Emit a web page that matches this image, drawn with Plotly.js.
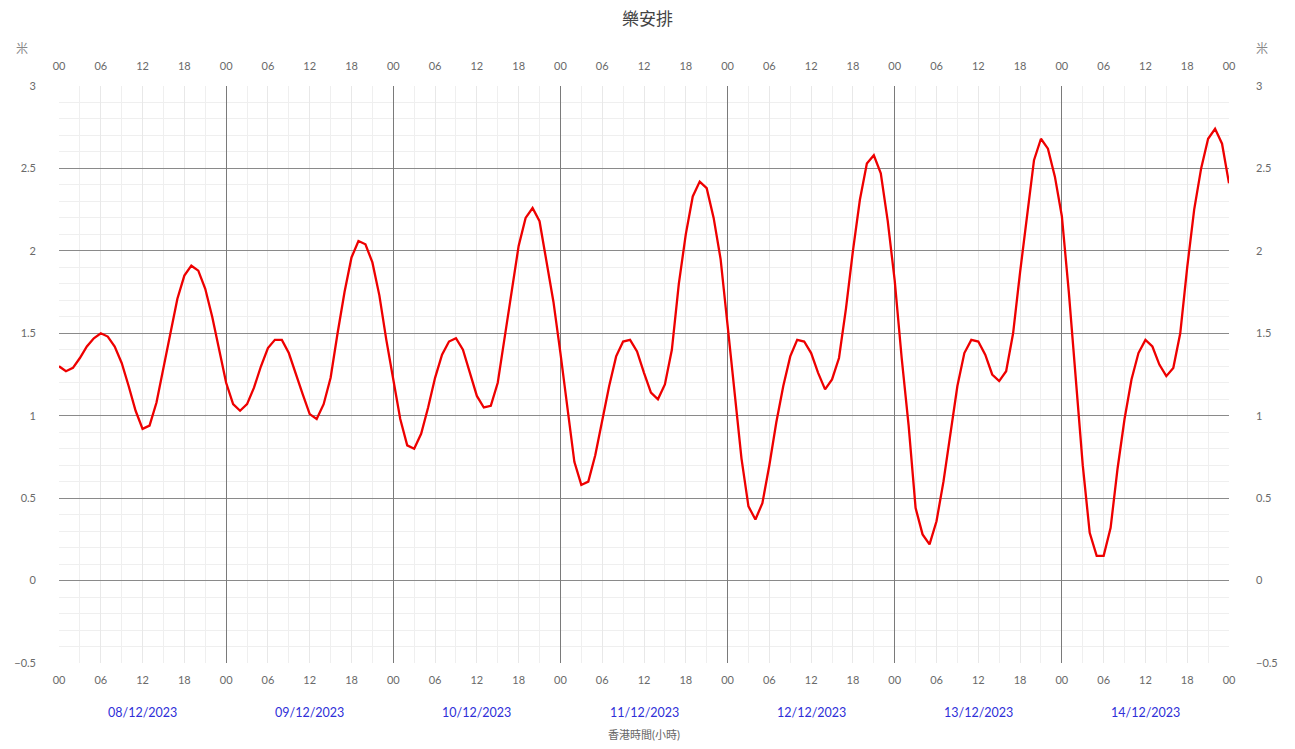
<!DOCTYPE html>
<html>
<head>
<meta charset="utf-8">
<script src="https://cdn.plot.ly/plotly-3.0.1.min.js"></script>
<style>html,body{margin:0;padding:0;background:#fff;}#chart{width:1295px;height:749px;}</style>
</head>
<body>
<div id="chart"></div>
<script>
// Station name and units
const stationName = "樂安排";
const unitLabel = "米";
const xTitle = "香港時間(小時)";

// Days shown (00 of each day at hour offsets 0, 24, 48 ...)
const dayLabels = ["08/12/2023","09/12/2023","10/12/2023","11/12/2023","12/12/2023","13/12/2023","14/12/2023"];

// Hour-of-day tick labels
const hourTickLabels = ["00","06","12","18"];

// Hourly tide level (m), from 00:00 08/12/2023 to 00:00 15/12/2023
const day1 = [1.30,1.27,1.29,1.35,1.42,1.47,1.50,1.48,1.42,1.32,1.18,1.03,0.92,0.94,1.08,1.30,1.50,1.71,1.85,1.91,1.88,1.77,1.60,1.40];
const day2 = [1.20,1.07,1.03,1.07,1.17,1.30,1.41,1.46,1.46,1.38,1.25,1.13,1.01,0.98,1.07,1.23,1.50,1.75,1.96,2.06,2.04,1.93,1.73,1.46];
const day3 = [1.22,0.98,0.82,0.80,0.89,1.05,1.23,1.37,1.45,1.47,1.40,1.26,1.12,1.05,1.06,1.20,1.48,1.75,2.03,2.20,2.26,2.18,1.94,1.69];
const day4 = [1.38,1.04,0.72,0.58,0.60,0.76,0.98,1.18,1.36,1.45,1.46,1.39,1.26,1.14,1.10,1.19,1.40,1.80,2.10,2.33,2.42,2.38,2.20,1.95];
const day5 = [1.55,1.13,0.74,0.45,0.37,0.47,0.70,0.96,1.18,1.36,1.46,1.45,1.38,1.26,1.16,1.22,1.35,1.65,2.00,2.31,2.53,2.58,2.47,2.18];
const day6 = [1.82,1.35,0.94,0.44,0.28,0.22,0.36,0.60,0.90,1.18,1.38,1.46,1.45,1.37,1.25,1.21,1.27,1.50,1.87,2.22,2.55,2.68,2.62,2.45];
const day7 = [2.21,1.75,1.20,0.70,0.29,0.15,0.15,0.32,0.68,0.98,1.22,1.38,1.46,1.42,1.31,1.24,1.29,1.50,1.90,2.25,2.50,2.68,2.74,2.65];
const finalLevel = [2.41];

const levels = [].concat(day1, day2, day3, day4, day5, day6, day7, finalLevel);
const hours = levels.map((_, i) => i);

const totalHours = dayLabels.length * 24;
const tickVals = [];
const tickText = [];
for (let h = 0; h <= totalHours; h += 6) {
  tickVals.push(h);
  tickText.push(hourTickLabels[(h % 24) / 6]);
}

const yRange = [-0.5, 3];
const xRange = [0, totalHours];
const fontFamily = "Lato, 'Noto Sans CJK TC', sans-serif";
const tickFont = {family: fontFamily, size: 11, color: "#6a6a6a"};

const traces = [
  {x: hours, y: levels, type: "scatter", mode: "lines",
   line: {color: "#ee0000", width: 2.3}, xaxis: "x", yaxis: "y",
   hoverinfo: "x+y", showlegend: false},
  {x: hours, y: levels, type: "scatter", mode: "lines",
   line: {color: "rgba(0,0,0,0)", width: 0}, xaxis: "x2", yaxis: "y2",
   hoverinfo: "skip", showlegend: false},
  {x: hours, y: levels, type: "scatter", mode: "lines",
   line: {color: "rgba(0,0,0,0)", width: 0}, xaxis: "x3", yaxis: "y",
   hoverinfo: "skip", showlegend: false}
];

const dayAnnotations = dayLabels.map((d, i) => ({
  x: i * 24 + 12, xref: "x", y: -0.085, yref: "paper", yanchor: "middle",
  text: d, showarrow: false, font: {family: fontFamily, size: 12.5, color: "#2f2fd8"}
}));

const layout = {
  width: 1295, height: 749,
  paper_bgcolor: "#fff", plot_bgcolor: "#fff",
  margin: {l: 59, r: 66, t: 86, b: 86},
  title: {text: stationName, x: 0.5, xanchor: "center", y: 0.975, yanchor: "middle",
          font: {family: fontFamily, size: 17, color: "#444"}},
  showlegend: false,
  xaxis: {
    range: xRange, tickmode: "array", tickvals: tickVals, ticktext: tickText,
    showgrid: true, gridcolor: "#e8e8e8", gridwidth: 1,
    minor: {dtick: 3, tick0: 0, showgrid: true, gridcolor: "#efefef", gridwidth: 1},
    zeroline: false, showline: false, ticks: "", ticklabelstandoff: 9,
    tickfont: tickFont,
    title: {text: xTitle, standoff: 46, font: {family: fontFamily, size: 11, color: "#666"}}
  },
  xaxis2: {
    range: xRange, overlaying: "x", side: "top", anchor: "y",
    tickmode: "array", tickvals: tickVals, ticktext: tickText,
    showgrid: false, zeroline: false, showline: false, ticks: "",
    ticklabelstandoff: 13, tickfont: tickFont
  },
  xaxis3: {
    range: xRange, overlaying: "x", anchor: "y",
    tickmode: "linear", tick0: 0, dtick: 24,
    showgrid: true, gridcolor: "#7a7a7a", gridwidth: 1,
    showticklabels: false, zeroline: false, showline: false, ticks: ""
  },
  yaxis: {
    range: yRange, tickmode: "linear", tick0: -0.5, dtick: 0.5,
    showgrid: true, gridcolor: "#8a8a8a", gridwidth: 1,
    minor: {dtick: 0.1, tick0: 0, showgrid: true, gridcolor: "#efefef", gridwidth: 1},
    zeroline: false, showline: false, ticks: "", ticklabelstandoff: 22,
    tickfont: tickFont
  },
  yaxis2: {
    range: yRange, overlaying: "y", side: "right", anchor: "x",
    tickmode: "linear", tick0: -0.5, dtick: 0.5,
    showgrid: false, zeroline: false, showline: false, ticks: "",
    ticklabelstandoff: 26, tickfont: tickFont
  },
  annotations: dayAnnotations.concat([
    {x: 0, xref: "paper", xshift: -37, y: 1, yref: "paper", yshift: 38,
     xanchor: "center", yanchor: "middle",
     text: unitLabel, showarrow: false, font: {family: fontFamily, size: 12, color: "#888"}},
    {x: 1, xref: "paper", xshift: 33, y: 1, yref: "paper", yshift: 38,
     xanchor: "center", yanchor: "middle",
     text: unitLabel, showarrow: false, font: {family: fontFamily, size: 12, color: "#888"}}
  ])
};

Plotly.newPlot("chart", traces, layout, {displayModeBar: false, staticPlot: true});
</script>
</body>
</html>
